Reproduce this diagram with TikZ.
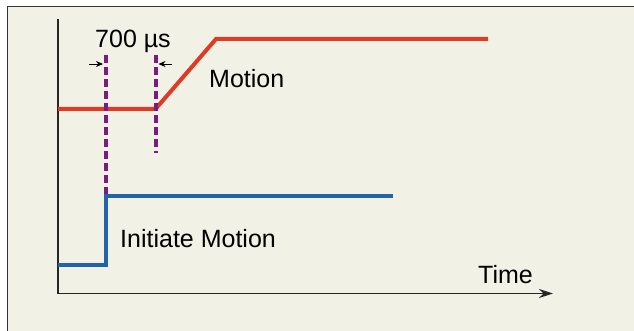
\documentclass[tikz,border=0pt]{standalone}
\usepackage{fontspec}
\setmainfont{Liberation Sans}
\usetikzlibrary{arrows.meta}
\definecolor{bgc}{HTML}{F2F1E6}
\definecolor{redc}{HTML}{E03A24}
\definecolor{bluec}{HTML}{1F64AC}
\definecolor{purc}{HTML}{7B1A80}
\tikzset{
  lbl/.style={inner sep=0pt, anchor=base west, font=\fontsize{25}{25}\selectfont},
  sig/.style={line width=4pt, line join=miter},
  marker/.style={purc, line width=4pt, dash pattern=on 8pt off 4pt},
  axis/.style={line width=1.8pt, black!85},
  gap/.style={line width=0.8pt, -{Stealth[length=7pt,width=6pt]}}
}
\begin{document}
\begin{tikzpicture}[x=1pt,y=-1pt]
\useasboundingbox (0,0) rectangle (634,331);
\fill[bgc] (7,6) rectangle (634,331);
\draw[line width=1.8pt, black!80] (7.5,331) -- (7.5,6.5) -- (634,6.5);
% coordinates
\coordinate (yt) at (58,19);
\coordinate (o) at (58,293.5);
\coordinate (xe) at (553,293.5);
% axes
\draw[axis] (yt) -- (o);
\draw[axis, -{Stealth[length=14pt,width=9pt]}] (o) -- (xe);
% red motion curve
\coordinate (r0) at (58,109);
\coordinate (r1) at (155.5,109);
\coordinate (r2) at (216,39);
\coordinate (r3) at (488,39);
\draw[sig, redc] (r0) -- (r1) -- (r2) -- (r3);
% blue initiate curve
\coordinate (b0) at (58,264.5);
\coordinate (b1) at (106,264.5);
\coordinate (b2) at (106,196);
\coordinate (b3) at (393,196);
% dashed markers
\coordinate (d1t) at (106,55);
\coordinate (d2t) at (155.5,55);
\coordinate (d2b) at (155.5,153);
\draw[marker] (d1t) -- (b2);
\draw[marker] (d2t) -- (d2b);
\draw[sig, bluec] (b0) -- (b1) -- (b2) -- (b3);
% gap arrows
\coordinate (a1s) at (89,64);
\coordinate (a1e) at (103,64);
\coordinate (a2s) at (172,64);
\coordinate (a2e) at (158.5,64);
\draw[gap] (a1s) -- (a1e);
\draw[gap] (a2s) -- (a2e);
% labels
\node[lbl] (t700) at (95,48) {700 µs};
\node[lbl] (tmot) at (209,88) {Motion};
\node[lbl] (tini) at (120,247) {Initiate Motion};
\node[lbl] (ttime) at (478,283) {Time};
\end{tikzpicture}
\end{document}
